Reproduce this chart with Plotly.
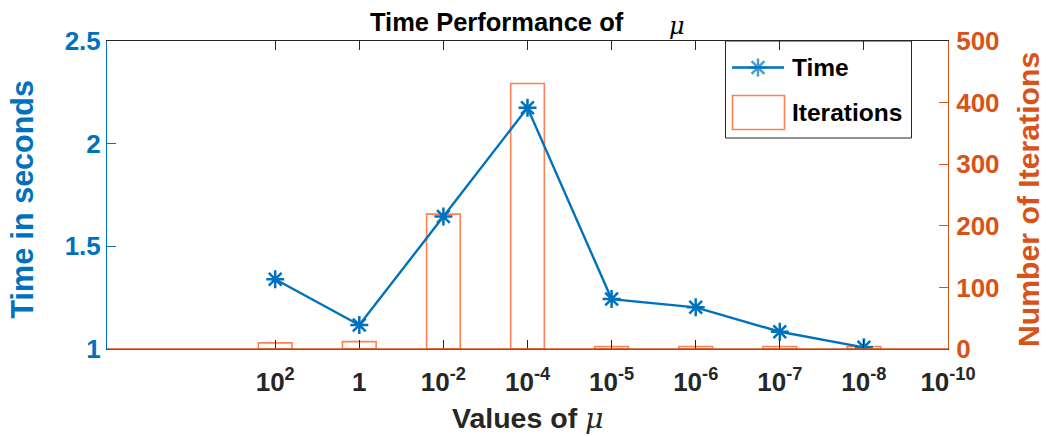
import numpy as np
import plotly.graph_objects as go

# Values of mu (tick labels) and the measurements for each of them
mu_labels = ["10<sup>2</sup>", "1", "10<sup>-2</sup>", "10<sup>-4</sup>", "10<sup>-5</sup>",
             "10<sup>-6</sup>", "10<sup>-7</sup>", "10<sup>-8</sup>", "10<sup>-10</sup>"]
time_sec = [1.34, 1.117, 1.645, 2.175, 1.243, 1.203, 1.084, 1.008]
iterations = [10, 12, 219, 431, 4, 4, 4, 4]

BLUE = "#0072BD"
ORANGE = "#D95319"
BAR_EDGE = "#FF8052"
DARK = "#262626"
FONT = "Liberation Sans"

tick_pos = np.arange(2, 2 + len(mu_labels))
x_data = tick_pos[:len(time_sec)]

# plot area in pixels (used to place the legend glyphs and titles)
W, H = 1046, 437
L, R, T, B = 107, 98, 41, 88
pw, ph = W - L - R, H - T - B


def px(x):
    return (x - L) / pw


def py(y):
    return (H - B - y) / ph


fig = go.Figure()

fig.add_trace(go.Bar(
    x=x_data, y=iterations, width=0.4, name="Iterations",
    marker=dict(color="rgba(0,0,0,0)", line=dict(color=BAR_EDGE, width=1.6)),
    xaxis="x", yaxis="y", showlegend=False,
))

fig.add_trace(go.Scatter(
    x=x_data, y=time_sec, name="Time", mode="lines+markers",
    line=dict(color=BLUE, width=2.4),
    marker=dict(symbol="asterisk-open", size=15, color=BLUE, line=dict(color=BLUE, width=2.5)),
    xaxis="x", yaxis="y2", showlegend=False,
))

# legend glyph for the line series
lx0, lx1, ly = px(732), px(784), py(67.5)
fig.add_trace(go.Scatter(
    x=[lx0, (lx0 + lx1) / 2, lx1], y=[ly, ly, ly], mode="lines+markers",
    line=dict(color=BLUE, width=2.4),
    marker=dict(symbol="asterisk-open", size=[0, 15, 0], color=BLUE,
                line=dict(color=BLUE, width=2.5)),
    xaxis="x3", yaxis="y3", showlegend=False, hoverinfo="skip",
))

fig.update_layout(
    width=W, height=H,
    margin=dict(l=L, r=R, t=T, b=B, autoexpand=False),
    paper_bgcolor="white", plot_bgcolor="white",
    font=dict(family=FONT, color=DARK),
    barmode="overlay",
    xaxis=dict(
        range=[0, 10], tickmode="array", tickvals=tick_pos, ticktext=mu_labels,
        ticks="inside", ticklen=9, tickwidth=1, tickcolor=DARK,
        showline=True, linecolor=DARK, linewidth=1, mirror="ticks",
        showgrid=False, zeroline=False, ticklabelstandoff=10,
        tickfont=dict(family=FONT, size=26, color=DARK, weight="bold"),
        anchor="y",
    ),
    yaxis=dict(
        range=[0, 500], tickvals=[0, 100, 200, 300, 400, 500], side="right",
        ticks="inside", ticklen=9, tickwidth=1, tickcolor=ORANGE,
        showline=True, linecolor=ORANGE, linewidth=1,
        showgrid=False, zeroline=False, ticklabelstandoff=2,
        tickfont=dict(family=FONT, size=26, color=ORANGE, weight="bold"),
        anchor="x",
    ),
    yaxis2=dict(
        range=[1, 2.5], tickvals=[1, 1.5, 2, 2.5], ticktext=["1", "1.5", "2", "2.5"],
        side="left", overlaying="y",
        ticks="inside", ticklen=9, tickwidth=1, tickcolor=BLUE,
        showline=True, linecolor=BLUE, linewidth=1,
        showgrid=False, zeroline=False,
        tickfont=dict(family=FONT, size=26, color=BLUE, weight="bold"),
        anchor="x",
    ),
    xaxis3=dict(range=[0, 1], overlaying="x", visible=False, anchor="y3"),
    yaxis3=dict(range=[0, 1], overlaying="y", visible=False, anchor="x3"),
)

shapes = [
    # orange baseline of the iterations axis
    dict(type="line", xref="paper", yref="paper", x0=0, x1=1, y0=0, y1=0,
         line=dict(color=ORANGE, width=1.5), layer="above"),
    # legend box
    dict(type="rect", xref="paper", yref="paper", x0=px(725.5), x1=px(911.5),
         y0=py(138), y1=py(41), line=dict(color=DARK, width=1),
         fillcolor="white", layer="below"),
    # legend glyph for the bar series
    dict(type="rect", xref="paper", yref="paper", x0=px(732.5), x1=px(784.5),
         y0=py(129.5), y1=py(95.5), line=dict(color=BAR_EDGE, width=1.6),
         fillcolor="rgba(0,0,0,0)", layer="above"),
]
fig.update_layout(shapes=shapes)

mu = "<span style=\"font-family:'DejaVu Serif';font-weight:normal\"><i>μ</i></span>"

annotations = [
    dict(text="Time Performance of", x=px(368), y=py(22), xanchor="left", yanchor="middle",
         font=dict(family=FONT, size=25.5, color="black", weight="bold")),
    dict(text=mu, x=px(667), y=py(26), xanchor="left", yanchor="middle",
         font=dict(family=FONT, size=24, color="black")),
    dict(text="Values of " + mu, x=0.5, y=py(418), xanchor="center", yanchor="middle",
         font=dict(family=FONT, size=28.5, color=DARK, weight="bold")),
    dict(text="Time in seconds", x=px(21.5), y=py(200), xanchor="center", yanchor="middle",
         textangle=-90, font=dict(family=FONT, size=30.5, color=BLUE, weight="bold")),
    dict(text="Number of Iterations", x=px(1029), y=py(200), xanchor="center", yanchor="middle",
         textangle=-90, font=dict(family=FONT, size=30.2, color=ORANGE, weight="bold")),
    dict(text="Time", x=px(790), y=py(67.5), xanchor="left", yanchor="middle",
         font=dict(family=FONT, size=24.5, color="black", weight="bold")),
    dict(text="Iterations", x=px(790), y=py(112), xanchor="left", yanchor="middle",
         font=dict(family=FONT, size=24.5, color="black", weight="bold")),
]
for a in annotations:
    a.update(xref="paper", yref="paper", showarrow=False)
fig.update_layout(annotations=annotations)

fig.write_html("out.html")
